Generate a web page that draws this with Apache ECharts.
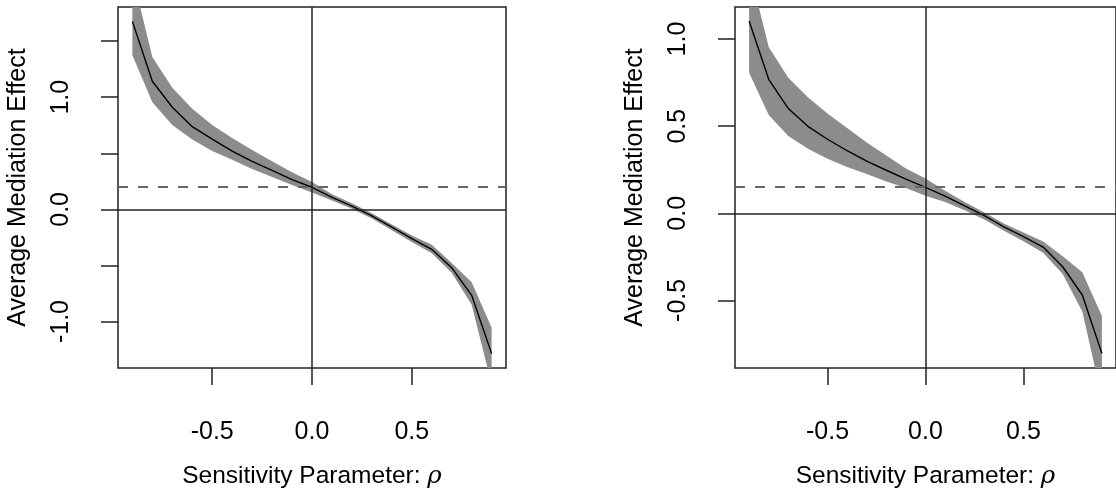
<!DOCTYPE html>
<html><head><meta charset="utf-8">
<script src="https://cdn.jsdelivr.net/npm/echarts@6/dist/echarts.min.js"></script>
<style>html,body{margin:0;padding:0;background:#fff}#c{width:1116px;height:494px}</style>
</head><body><div id="c"></div>
<script>
const rho = [-0.9,-0.8,-0.7,-0.6,-0.5,-0.4,-0.3,-0.2,-0.1,0,0.1,0.2,0.3,0.4,0.5,0.6,0.7,0.8,0.9];

const leftEstimate = [1.676,1.142,0.910,0.737,0.627,0.520,0.428,0.347,0.266,0.197,0.107,0.029,-0.058,-0.159,-0.260,-0.356,-0.520,-0.766,-1.286];
const leftUpper    = [2.090,1.359,1.084,0.896,0.752,0.636,0.529,0.428,0.332,0.245,0.135,0.055,-0.035,-0.135,-0.232,-0.315,-0.477,-0.650,-1.055];
const leftLower    = [1.373,0.954,0.752,0.622,0.520,0.442,0.361,0.289,0.217,0.150,0.080,0.005,-0.082,-0.185,-0.290,-0.390,-0.564,-0.850,-1.560];
const leftAcme = 0.197;

const rightEstimate = [1.104,0.769,0.601,0.499,0.425,0.359,0.300,0.247,0.196,0.149,0.098,0.042,-0.013,-0.078,-0.134,-0.194,-0.307,-0.469,-0.804];
const rightUpper    = [1.408,0.955,0.778,0.666,0.573,0.489,0.406,0.331,0.257,0.200,0.130,0.065,0.005,-0.058,-0.110,-0.162,-0.246,-0.339,-0.590];
const rightLower    = [0.806,0.564,0.443,0.370,0.313,0.266,0.225,0.182,0.145,0.100,0.065,0.018,-0.035,-0.100,-0.160,-0.227,-0.348,-0.563,-1.060];
const rightAcme = 0.149;

const xTicks = [-0.5,0,0.5];
const leftYTicks = [-1,-0.5,0,0.5,1,1.5];
const leftYLabels = [-1,0,1];
const rightYTicks = [-0.5,0,0.5,1];
const rightYLabels = [-0.5,0,0.5,1];

const xTitle = 'Sensitivity Parameter: {i|ρ}';
const yTitle = 'Average Mediation Effect';

const FONT = 'Liberation Sans, Arial, Helvetica, sans-serif';
const BAND = '#8c8c8c';
const INK = '#222';
const fmt = v => (v < 0 ? '-' : '') + Math.abs(v).toFixed(1);
const pairs = (xs, ys) => xs.map((x, i) => [x, ys[i]]);

function makeX(idx){
  return {
    gridIndex: idx, type: 'value', min: -0.972, max: 0.972,
    axisLine: {show: false, onZero: false},
    splitLine: {show: false},
    axisTick: {show: true, inside: false, length: 17, customValues: xTicks, lineStyle: {color: INK, width: 1.5}},
    axisLabel: {customValues: xTicks, formatter: fmt, fontSize: 25, color: '#000', fontFamily: FONT, margin: 52},
    name: xTitle, nameLocation: 'middle', nameGap: 96,
    nameTextStyle: {fontSize: 24.5, color: '#000', fontFamily: FONT,
      rich: {i: {fontStyle: 'italic', fontSize: 24.5, color: '#000', fontFamily: 'DejaVu Serif, serif'}}}
  };
}
function makeY(idx, min, max, ticks, labels){
  return {
    gridIndex: idx, type: 'value', min: min, max: max,
    axisLine: {show: false, onZero: false},
    splitLine: {show: false},
    axisTick: {show: true, inside: false, length: 17, customValues: ticks, lineStyle: {color: INK, width: 1.5}},
    axisLabel: {customValues: labels, formatter: fmt, rotate: 90, fontSize: 25, color: '#000', fontFamily: FONT, margin: 44},
    name: yTitle, nameLocation: 'middle', nameGap: 87, nameRotate: 90,
    nameTextStyle: {fontSize: 25, color: '#000', fontFamily: FONT}
  };
}
function panelSeries(idx, est, up, lo, acme){
  const bandData = rho.map((x, i) => [x, lo[i], up[i]]);
  return [
    {type: 'custom', xAxisIndex: idx, yAxisIndex: idx, data: bandData, clip: true, silent: true, z: 1,
     encode: {x: 0, y: [1, 2]},
     renderItem: function(params, api){
       if (params.dataIndex !== 0) return null;
       const pts = [];
       for (let i = 0; i < rho.length; i++) pts.push(api.coord([rho[i], up[i]]));
       for (let i = rho.length - 1; i >= 0; i--) pts.push(api.coord([rho[i], lo[i]]));
       return {type: 'polygon', shape: {points: pts}, style: {fill: BAND, stroke: null}};
     }},
    {type: 'line', xAxisIndex: idx, yAxisIndex: idx, data: pairs(rho, est), symbol: 'none',
     lineStyle: {color: '#000', width: 1.4}, silent: true, z: 3,
     markLine: {silent: true, symbol: ['none', 'none'], label: {show: false}, animation: false,
       data: [
         {xAxis: 0, lineStyle: {color: INK, width: 1.5, type: 'solid'}},
         {yAxis: 0, lineStyle: {color: INK, width: 1.5, type: 'solid'}},
         {yAxis: acme, lineStyle: {color: '#666', width: 2, type: [10, 10]}}
       ]}}
  ];
}

const chart = echarts.init(document.getElementById('c'), null, {renderer: 'canvas'});
chart.setOption({
  animation: false,
  backgroundColor: '#fff',
  grid: [
    {left: 118, top: 7, width: 388, height: 371, show: true, borderColor: INK, borderWidth: 1.5, backgroundColor: 'transparent'},
    {left: 735, top: 7, width: 388, height: 371, show: true, borderColor: INK, borderWidth: 1.5, backgroundColor: 'transparent'}
  ],
  xAxis: [makeX(0), makeX(1)],
  yAxis: [
    makeY(0, -1.414, 1.804, leftYTicks, leftYLabels),
    makeY(1, -0.888, 1.184, rightYTicks, rightYLabels)
  ],
  series: [
    ...panelSeries(0, leftEstimate, leftUpper, leftLower, leftAcme),
    ...panelSeries(1, rightEstimate, rightUpper, rightLower, rightAcme)
  ]
});
</script>
</body></html>
